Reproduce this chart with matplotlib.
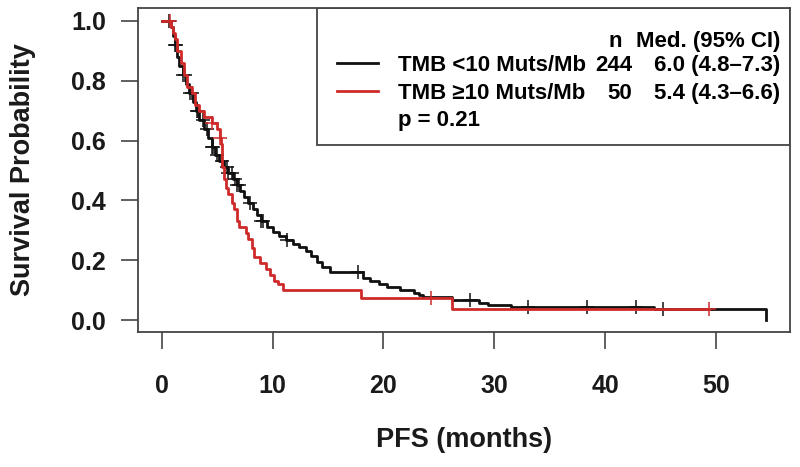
import numpy as np
import matplotlib
matplotlib.use("Agg")
from matplotlib import pyplot as plt
from matplotlib.lines import Line2D
from matplotlib.patches import Rectangle

# step points (months, survival)
low_t = [0, 0.8, 1.0, 1.2, 1.4, 1.6, 1.9, 2.2, 2.5, 2.8, 3.1, 3.4, 3.8, 4.2, 4.5,
         4.8, 5.2, 5.6, 6.0, 6.4, 6.8, 7.1, 7.4, 7.8, 8.2, 8.6, 9.0, 9.5, 10.0,
         10.6, 11.2, 11.8, 12.4, 13.0, 13.5, 14.0, 14.5, 15.2, 18.2, 18.8,
         19.6, 20.3, 21.5, 22.8, 23.2, 23.6, 26.2, 28.6, 29.4, 31.5, 44.4, 54.5]
low_s = [1.0, 0.98, 0.95, 0.92, 0.88, 0.85, 0.82, 0.79, 0.76, 0.73, 0.70, 0.67,
         0.64, 0.61, 0.58, 0.55, 0.53, 0.51, 0.49, 0.47, 0.45, 0.43, 0.41, 0.39,
         0.37, 0.35, 0.33, 0.31, 0.295, 0.28, 0.268, 0.255, 0.245, 0.232, 0.215,
         0.195, 0.178, 0.16, 0.14, 0.13, 0.12, 0.11, 0.10, 0.09, 0.084, 0.077,
         0.067, 0.057, 0.05, 0.044, 0.036, 0.0]
low_cens = [0.7, 1.2, 1.3, 1.9, 2.1, 2.55, 2.7, 3.15, 3.3, 3.7, 4.05, 4.5, 4.6,
            4.95, 5.4, 5.85, 6.0, 6.3, 6.6, 6.8, 7.0, 8.0, 9.0, 9.1, 11.3, 17.7,
            27.8, 33.0, 38.4, 42.8, 45.2]

high_t = [0, 0.8, 1.0, 1.2, 1.4, 1.7, 2.0, 2.3, 2.7, 3.0, 3.4, 3.8, 4.5, 5.0,
          5.3, 5.35, 5.4, 5.45, 5.6, 5.8, 6.0, 6.3, 6.5, 6.8, 7.0, 7.6, 7.8, 8.1,
          8.3, 8.9, 9.4, 9.8, 10.1, 10.5, 10.9, 18.0, 26.2, 49.4]
high_s = [1.0, 0.98, 0.96, 0.94, 0.90, 0.86, 0.82, 0.78, 0.76, 0.72, 0.70, 0.68,
          0.66, 0.64, 0.61, 0.59, 0.55, 0.51, 0.47, 0.44, 0.42, 0.39, 0.37, 0.33,
          0.31, 0.29, 0.27, 0.24, 0.21, 0.19, 0.17, 0.15, 0.13, 0.12, 0.10,
          0.073, 0.037, 0.037]
high_cens = [0.75, 4.55, 5.3, 24.3, 49.4]

groups = ["TMB <10 Muts/Mb", "TMB \u226510 Muts/Mb"]
n_pts = ["244", "50"]
medians = ["6.0 (4.8\u20137.3)", "5.4 (4.3\u20136.6)"]
p_text = "p = 0.21"
xticks = [0, 10, 20, 30, 40, 50]
yticks = [0.0, 0.2, 0.4, 0.6, 0.8, 1.0]

BLACK = "#111111"
RED = "#cf2a2a"
GREY = "#444444"
FONT = "Liberation Sans"

plt.rcParams["font.family"] = [FONT, "DejaVu Sans"]
plt.rcParams["font.weight"] = "bold"

fig = plt.figure(figsize=(8, 4.67), dpi=100)
ax = fig.add_axes([138 / 800, 1 - 332 / 467, 652 / 800, 324 / 467])


def surv_at(times, surv, c):
    i = np.searchsorted(times, c, side="right") - 1
    return np.array(surv)[i]


for t, s, cens, col in [(low_t, low_s, low_cens, BLACK),
                        (high_t, high_s, high_cens, RED)]:
    ax.step(t, s, where="post", color=col, lw=2.0)
    ax.plot(cens, surv_at(np.array(t), s, np.array(cens)), ls="none",
            marker="+", ms=10, mew=1.1, color=col)

ax.set_xlim(-2.14, 56.68)
ax.set_ylim(-0.04, 1.043)
ax.set_xticks(xticks)
ax.set_yticks(yticks)
ax.set_xticklabels([str(v) for v in xticks])
ax.set_yticklabels(["%.1f" % v for v in yticks])
ax.tick_params(direction="out", length=12, width=1.2, color=GREY,
               labelsize=18, labelcolor="#1a1a1a")
ax.tick_params(axis="x", pad=18)
ax.tick_params(axis="y", pad=11)
for sp in ax.spines.values():
    sp.set_color(GREY)
    sp.set_linewidth(1.3)

fig.text(464 / 800, 1 - 440 / 467, "PFS (months)", ha="center", va="center",
         fontsize=19.5, color="#1a1a1a")
fig.text(23 / 800, 1 - 170 / 467, "Survival Probability", ha="center",
         va="center", rotation=90, fontsize=19.5, color="#1a1a1a")

# legend table
ax.add_patch(Rectangle((0.2745, 0.577), 0.7255, 0.423, transform=ax.transAxes,
                       fill=False, ec=GREY, lw=1.3, zorder=5))
leg_fs = 16
fig.text(622 / 800, 1 - 47 / 467, "n", ha="right", va="baseline", fontsize=leg_fs)
fig.text(780 / 800, 1 - 47 / 467, "Med. (95% CI)", ha="right", va="baseline",
         fontsize=leg_fs)
for i, col in enumerate([BLACK, RED]):
    base = 71 + 28 * i
    fig.add_artist(Line2D([337 / 800, 378 / 800], [1 - (base - 8) / 467] * 2,
                          color=col, lw=2.0))
    fig.text(398 / 800, 1 - base / 467, groups[i], ha="left", va="baseline",
             fontsize=leg_fs, family=[FONT, "DejaVu Sans"])
    fig.text(632 / 800, 1 - base / 467, n_pts[i], ha="right", va="baseline",
             fontsize=leg_fs)
    fig.text(780 / 800, 1 - base / 467, medians[i], ha="right", va="baseline",
             fontsize=leg_fs)
fig.text(398 / 800, 1 - 126 / 467, p_text, ha="left", va="baseline",
         fontsize=leg_fs)

fig.savefig("out.png", dpi=100)
